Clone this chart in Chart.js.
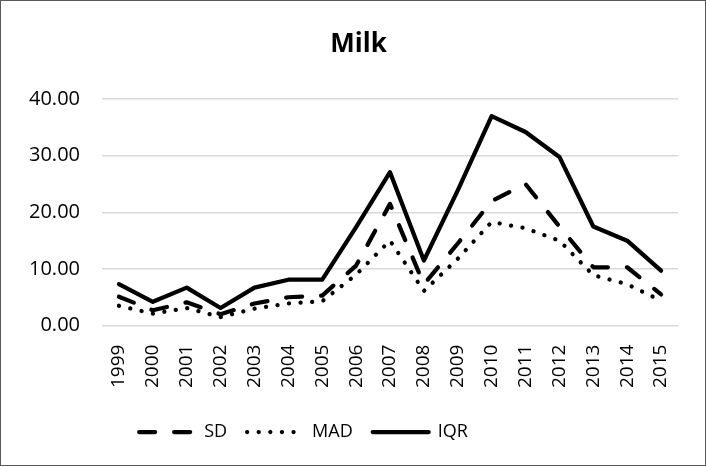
<!DOCTYPE html>
<html>
<head>
<meta charset="utf-8">
<script src="https://cdn.jsdelivr.net/npm/chart.js@4"></script>
<style>
    html, body { margin: 0; padding: 0; background: #fff; }
    #wrap {
        width: 706px; height: 466px;
        box-sizing: border-box;
        border: 1px solid #595959;
        position: relative;
    }
</style>
</head>
<body>
<div id="wrap"><canvas id="milkChart"></canvas></div>
<script>
const years = ['1999', '2000', '2001', '2002', '2003', '2004', '2005', '2006', '2007',
    '2008', '2009', '2010', '2011', '2012', '2013', '2014', '2015'];
const sdValues = [5.1, 2.7, 4.1, 2.0, 3.9, 5.0, 5.3, 10.6, 21.5, 7.3, 14.5, 22.0, 25.0, 17.5, 10.3, 10.3, 5.5];
const madValues = [3.5, 2.1, 3.1, 1.5, 3.0, 3.9, 4.3, 9.0, 15.0, 6.1, 11.8, 18.3, 17.2, 15.0, 8.9, 7.3, 4.4];
const iqrValues = [7.3, 4.2, 6.7, 3.1, 6.7, 8.1, 8.1, 17.4, 27.1, 11.5, 23.9, 37.0, 34.2, 29.8, 17.5, 15.0, 9.7];
const yTicks = [0, 10, 20, 30, 40];

const fontFamily = '"Open Sans", sans-serif';

// Excel had the legend nudged left and the title centred on the whole frame
const blockShift = {
    id: 'blockShift',
    afterUpdate(chart) {
        if (chart.legend) {
            chart.legend.left -= 39;
            chart.legend.right -= 39;
        }
        if (chart.titleBlock) {
            chart.titleBlock.left += 16;
            chart.titleBlock.right += 16;
        }
    }
};

function lineSet(label, data, dash) {
    return {
        label: label,
        data: data,
        borderColor: '#000',
        backgroundColor: '#000',
        borderWidth: 4.25,
        borderDash: dash,
        borderCapStyle: 'round',
        borderJoinStyle: 'round',
        pointRadius: 0,
        tension: 0,
        fill: false
    };
}

new Chart(document.getElementById('milkChart').getContext('2d'), {
    type: 'line',
    data: {
        labels: years,
        datasets: [
            lineSet('SD', sdValues, [16, 19]),
            lineSet('MAD', madValues, [0.1, 11.5]),
            lineSet('IQR', iqrValues, [])
        ]
    },
    options: {
        responsive: true,
        maintainAspectRatio: false,
        animation: false,
        layout: { padding: { left: 6, right: 27, top: 10, bottom: 14 } },
        scales: {
            x: {
                offset: true,
                grid: { display: false },
                border: { display: false },
                afterFit: axis => { axis.height += 4; },
                ticks: {
                    color: '#000',
                    font: { family: fontFamily, size: 19 },
                    minRotation: 90,
                    maxRotation: 90,
                    padding: 11,
                    autoSkip: false
                }
            },
            y: {
                min: 0,
                max: 40,
                afterBuildTicks: axis => { axis.ticks = yTicks.map(v => ({ value: v })); },
                grid: { color: '#d9d9d9', lineWidth: 1.5, drawTicks: false },
                border: { display: false },
                ticks: {
                    color: '#000',
                    font: { family: fontFamily, size: 20 },
                    padding: 22,
                    callback: value => Number(value).toFixed(2)
                }
            }
        },
        plugins: {
            title: {
                display: true,
                text: 'Milk',
                color: '#000',
                font: { family: fontFamily, size: 26, weight: 'bold' },
                padding: { top: 18, bottom: 39 }
            },
            legend: {
                position: 'bottom',
                labels: {
                    color: '#000',
                    font: { family: fontFamily, size: 18 },
                    usePointStyle: true,
                    pointStyle: 'line',
                    pointStyleWidth: 56,
                    padding: 20,
                    generateLabels: chart => chart.data.datasets.map((ds, i) => ({
                        text: ds.label,
                        datasetIndex: i,
                        fillStyle: ds.borderColor,
                        strokeStyle: ds.borderColor,
                        lineWidth: ds.borderWidth,
                        lineDash: ds.borderDash,
                        lineCap: ds.borderCapStyle,
                        pointStyle: 'line',
                        fontColor: '#000',
                        hidden: false
                    }))
                }
            },
            tooltip: { enabled: false }
        }
    },
    plugins: [blockShift]
});
</script>
</body>
</html>
